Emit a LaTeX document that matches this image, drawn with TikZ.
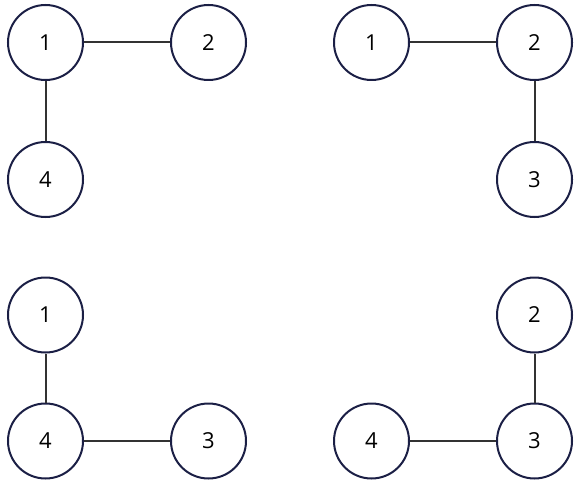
\documentclass[tikz,border=0pt]{standalone}
\usepackage{fontspec}
\setmainfont{Open Sans}
\definecolor{navy}{HTML}{1B1F45}
\definecolor{edgegray}{HTML}{333333}
\begin{document}
\begin{tikzpicture}[x=1pt,y=-1pt,
  vert/.style={circle,draw=navy,line width=2pt,minimum size=75pt,inner sep=0pt,font=\fontsize{22}{24}\selectfont,text=black},
  link/.style={draw=edgegray,line width=2pt}]
\useasboundingbox (0,0) rectangle (577,486);
% top-left
\node[vert] (a1) at (45.5,42.5) {1};
\node[vert] (a2) at (208.5,42.5) {2};
\node[vert] (a4) at (45.5,179.5) {4};
\draw[link] (a1) -- (a2);
\draw[link] (a1) -- (a4);
% top-right
\node[vert] (b1) at (371.5,42.5) {1};
\node[vert] (b2) at (534.5,42.5) {2};
\node[vert] (b3) at (534.5,179.5) {3};
\draw[link] (b1) -- (b2);
\draw[link] (b2) -- (b3);
% bottom-left
\node[vert] (c1) at (45.5,315) {1};
\node[vert] (c4) at (45.5,441) {4};
\node[vert] (c3) at (208.5,441) {3};
\draw[link] (c1) -- (c4);
\draw[link] (c4) -- (c3);
% bottom-right
\node[vert] (d2) at (534.5,315) {2};
\node[vert] (d4) at (371.5,441) {4};
\node[vert] (d3) at (534.5,441) {3};
\draw[link] (d2) -- (d3);
\draw[link] (d4) -- (d3);
\end{tikzpicture}
\end{document}
